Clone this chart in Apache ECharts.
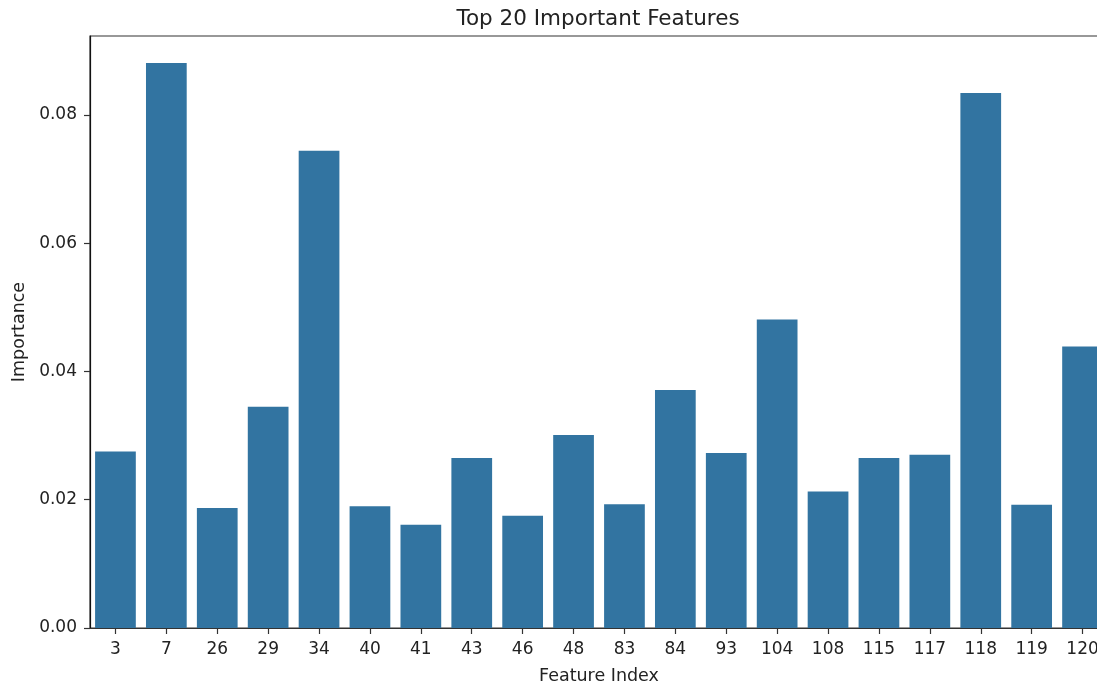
<!DOCTYPE html>
<html>
<head>
<meta charset="utf-8">
<script src="https://cdn.jsdelivr.net/npm/echarts@6/dist/echarts.min.js"></script>
<style>
html,body{margin:0;padding:0;background:#fff;}
#chart{width:1097px;height:682px;}
</style>
</head>
<body>
<div id="chart"></div>
<script>
const categories = ['3','7','26','29','34','40','41','43','46','48','83','84','93','104','108','115','117','118','119','120'];
const importance = [0.0275,0.0881,0.0187,0.0345,0.0744,0.0190,0.0161,0.0265,0.0175,0.0301,0.0193,0.0371,0.0273,0.0481,0.0213,0.0265,0.0270,0.0834,0.0192,0.0439];
const yTicks = [0, 0.02, 0.04, 0.06, 0.08];

const chart = echarts.init(document.getElementById('chart'), null, {renderer: 'canvas'});
const font = 'DejaVu Sans';
const ink = '#222';
chart.setOption({
  animation: false,
  backgroundColor: '#fff',
  title: {
    text: 'Top 20 Important Features',
    left: 593, top: 3, textAlign: 'center',
    textStyle: {fontFamily: font, fontSize: 21.5, fontWeight: 'normal', color: ink}
  },
  grid: {
    left: 90, right: -11, top: 36, bottom: 54,
    outerBoundsMode: 'none',
    containLabel: false,
    show: true, borderColor: '#333', borderWidth: 1.2, backgroundColor: 'transparent'
  },
  xAxis: {
    type: 'category',
    data: categories,
    name: 'Feature Index',
    nameLocation: 'middle',
    nameGap: 39,
    nameTextStyle: {fontFamily: font, fontSize: 17.5, color: ink},
    axisLine: {show: true, lineStyle: {color: '#333', width: 1.2}},
    axisTick: {show: true, alignWithLabel: true, length: 6, lineStyle: {color: '#333', width: 1.2}},
    axisLabel: {fontFamily: font, fontSize: 17, color: ink, margin: 13, interval: 0},
    splitLine: {show: false}
  },
  yAxis: {
    type: 'value',
    min: 0, max: 0.0923, interval: 0.02,
    name: 'Importance',
    nameLocation: 'middle',
    nameGap: 61,
    nameTextStyle: {fontFamily: font, fontSize: 17.5, color: ink},
    axisLine: {show: true, lineStyle: {color: '#111', width: 1.2}},
    axisTick: {show: true, length: 6, customValues: yTicks, lineStyle: {color: '#333', width: 1.2}},
    axisLabel: {fontFamily: font, fontSize: 17, color: ink, margin: 13, customValues: yTicks,
      formatter: v => v.toFixed(2)},
    splitLine: {show: false}
  },
  series: [{
    type: 'bar',
    data: importance,
    barWidth: '80%',
    itemStyle: {color: '#3274a1'}
  }]
});
</script>
</body>
</html>
